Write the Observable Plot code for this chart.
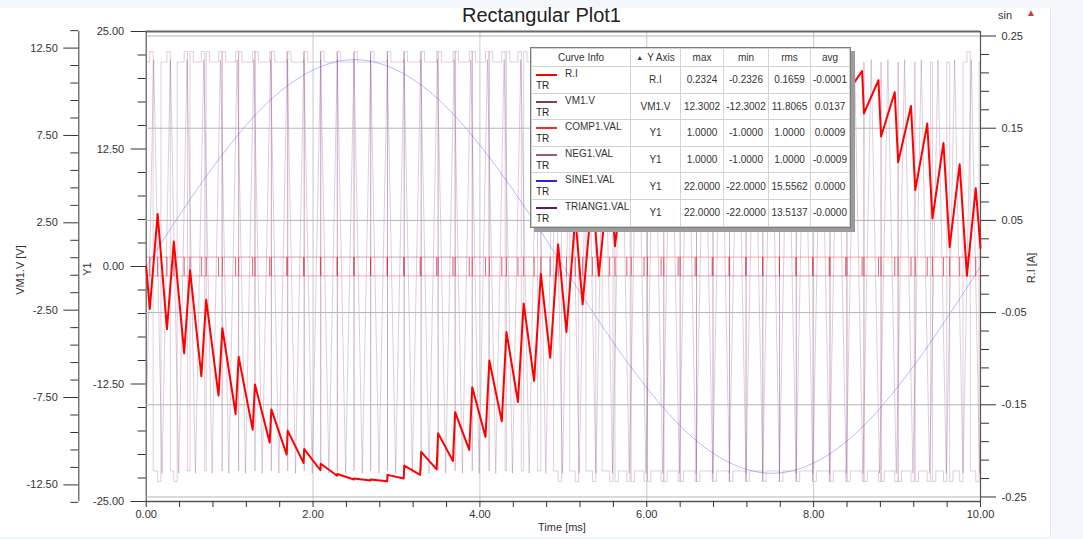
<!DOCTYPE html>
<html>
<head>
<meta charset="utf-8">
<script src="https://cdn.jsdelivr.net/npm/d3@7"></script>
<script src="https://cdn.jsdelivr.net/npm/@observablehq/plot@0.6"></script>
<style>
  html, body { margin: 0; padding: 0; background: #f3f6fa; }
  body { font-family: "Liberation Sans", Arial, sans-serif; color: #333; }
  #wrap { position: relative; width: 1083px; height: 539px; overflow: hidden; }
  #panel { position: absolute; left: 0; top: 8px; width: 1050px; height: 529px; background: #fff; border-right: 1px solid #e2e5e9; }
  .layer { position: absolute; left: 0; top: 0; }
  .layer svg { display: block; }
  .title { position: absolute; top: 4px; left: 0; width: 1083px; text-align: center; font-size: 20px; color: #222; }
  .sin { position: absolute; left: 998px; top: 9px; font-size: 11px; color: #333; }
  .warn { position: absolute; left: 1026px; top: 7px; font-size: 10px; color: #d43a3a; }
  .rot { position: absolute; font-size: 11px; color: #333; white-space: nowrap; transform: translate(-50%, -50%) rotate(-90deg); }
  .xlab { position: absolute; font-size: 11px; color: #333; transform: translate(-50%, -50%); white-space: nowrap; }
  #legend { position: absolute; left: 530px; top: 47px; background: #fff; border: 1px solid #7d7d7d; box-shadow: 4px 4px 0 #9c9c9c; }
  #legend table { border-collapse: collapse; table-layout: fixed; font-size: 10px; color: #333; }
  #legend td, #legend th { border: 1px solid #d2d2d2; padding: 0; text-align: center; font-weight: normal; overflow: hidden; white-space: nowrap; }
  #legend tr.hd th { height: 17px; }
  #legend tr.row td { height: 25.6px; }
  .ci { position: relative; height: 25.6px; text-align: left; }
  .ci .ln { position: absolute; left: 4px; top: 7px; width: 21px; height: 2px; }
  .ci .nm { position: absolute; left: 33px; top: 1px; }
  .ci .tr { position: absolute; left: 4px; top: 13px; color: #222; }
  .tri { font-size: 7px; position: relative; top: -1px; margin-right: 4px; }
</style>
</head>
<body>
<div id="wrap">
  <div id="panel"></div>
  <div id="layerA" class="layer"></div>
  <div id="layerB" class="layer"></div>
  <div id="layerC" class="layer"></div>
  <div class="title">Rectangular Plot1</div>
  <div class="sin">sin</div>
  <div class="warn">&#9650;</div>
  <div class="rot" style="left:20px; top:270px;">VM1.V [V]</div>
  <div class="rot" style="left:87px; top:269px;">Y1</div>
  <div class="rot" style="left:1031px; top:268px;">R.I [A]</div>
  <div class="xlab" style="left:562px; top:527px;">Time [ms]</div>
  <div id="legend"></div>
</div>
<script>
// ---------------- data ----------------
// PWM switching instants (ms): start / end of each comparator pulse
const pwmStart = [0.043,0.249,0.455,0.661,0.867,1.072,1.276,1.480,1.684,1.886,2.088,2.289,2.490,2.689,2.888,3.087,3.284,3.481,3.677,3.872,4.067,4.262,4.456,4.650,4.843,5.037,5.231,5.425,5.619,5.813,6.008,6.204,6.400,6.596,6.794,6.992,7.190,7.391,7.591,7.792,7.993,8.196,8.399,8.603,8.808,9.013,9.218,9.424,9.630,9.837];
const pwmEnd = [0.137,0.331,0.525,0.719,0.913,1.108,1.304,1.500,1.696,1.894,2.092,2.291,2.491,2.691,2.892,3.093,3.296,3.499,3.703,3.908,4.113,4.318,4.524,4.730,4.937,5.143,5.349,5.555,5.761,5.967,6.172,6.376,6.580,6.784,6.986,7.188,7.389,7.589,7.789,7.988,8.187,8.384,8.581,8.777,8.972,9.167,9.362,9.556,9.750,9.943];
// R.I (A) at each pwmStart (troughs) and pwmEnd (peaks)
const riTrough = [-0.046,-0.068,-0.094,-0.119,-0.140,-0.160,-0.177,-0.191,-0.204,-0.213,-0.221,-0.227,-0.231,-0.232,-0.233,-0.230,-0.226,-0.220,-0.211,-0.199,-0.185,-0.168,-0.147,-0.124,-0.099,-0.071,-0.041,-0.010,0.022,0.055,0.087,0.117,0.145,0.170,0.192,0.209,0.222,0.229,0.231,0.228,0.220,0.206,0.188,0.166,0.141,0.113,0.083,0.052,0.021,-0.010];
const riPeak = [0.057,0.027,-0.004,-0.036,-0.067,-0.098,-0.128,-0.155,-0.178,-0.198,-0.214,-0.225,-0.230,-0.231,-0.226,-0.216,-0.201,-0.181,-0.158,-0.131,-0.102,-0.071,-0.040,-0.008,0.024,0.054,0.082,0.108,0.132,0.153,0.172,0.187,0.201,0.212,0.220,0.226,0.230,0.232,0.231,0.230,0.227,0.221,0.212,0.202,0.189,0.174,0.155,0.134,0.111,0.085];
const riStartValue = 0.0, riEndValue = 0.02;

// SINE1.VAL read every 0.5 ms
const sineT = [0,0.5,1,1.5,2,2.5,3,3.5,4,4.5,5,5.5,6,6.5,7,7.5,8,8.5,9,9.5,10];
const sineV = [0,6.8,12.9,17.8,20.9,22,20.9,17.8,12.9,6.8,0,-6.8,-12.9,-17.8,-20.9,-22,-20.9,-17.8,-12.9,-6.8,0];

const triAmp = 22;          // TRIANG1.VAL peak
const compLevel = 1;        // COMP1 / NEG1 level
const vmHigh = 11.7;        // VM1.V plateau
const vmDiode = 12.3;       // VM1.V during dead time
const deadTime = 0.04;      // ms

// axes
const xMajor = [0,2,4,6,8,10];
const xMinor = [0.4,0.8,1.2,1.6,2.4,2.8,3.2,3.6,4.4,4.8,5.2,5.6,6.4,6.8,7.2,7.6,8.4,8.8,9.2,9.6];
const xGrid = [2,4,6,8];
const y1Major = [25,12.5,0,-12.5,-25];
const y1Minor = [22.5,20,17.5,15,10,7.5,5,2.5,-2.5,-5,-7.5,-10,-15,-17.5,-20,-22.5];
const vmMajor = [12.5,7.5,2.5,-2.5,-7.5,-12.5];
const vmMinor = [13.5,11.5,10.5,9.5,8.5,6.5,5.5,4.5,3.5,1.5,0.5,-0.5,-1.5,-3.5,-4.5,-5.5,-6.5,-8.5,-9.5,-10.5,-11.5,-13.5];
const riMajor = [0.25,0.15,0.05,-0.05,-0.15,-0.25];
const riMinor = [0.23,0.21,0.19,0.17,0.13,0.11,0.09,0.07,0.03,0.01,-0.01,-0.03,-0.07,-0.09,-0.11,-0.13,-0.17,-0.19,-0.21,-0.23];

// legend table
const legNames = ["R.I","VM1.V","COMP1.VAL","NEG1.VAL","SINE1.VAL","TRIANG1.VAL"];
const legAxis = ["R.I","VM1.V","Y1","Y1","Y1","Y1"];
const legMax = ["0.2324","12.3002","1.0000","1.0000","22.0000","22.0000"];
const legMin = ["-0.2326","-12.3002","-1.0000","-1.0000","-22.0000","-22.0000"];
const legRms = ["0.1659","11.8065","1.0000","1.0000","15.5562","13.5137"];
const legAvg = ["-0.0001","0.0137","0.0009","-0.0009","0.0000","-0.0000"];
const legColors = ["#ff0000","#7a3a6c","#ff2a2a","#9a5a7c","#2424dd","#5a1a66"];

// ---------------- build series tables ----------------
const riData = [{t: 0, v: riStartValue}];
pwmStart.forEach((s, k) => { riData.push({t: s, v: riTrough[k]}, {t: pwmEnd[k], v: riPeak[k]}); });
riData.push({t: 10, v: riEndValue});

const vmData = [{t: 0, v: vmHigh}];
pwmStart.forEach((s, k) => {
  const e = pwmEnd[k];
  const nextS = k + 1 < pwmStart.length ? pwmStart[k + 1] : 10;
  const ds = Math.min(deadTime, e - s);
  const de = Math.min(deadTime, nextS - e);
  const Ds = riTrough[k] < 0 ? vmDiode : -vmDiode;
  const De = riPeak[k] < 0 ? vmDiode : -vmDiode;
  vmData.push({t: s, v: vmHigh}, {t: s, v: Ds}, {t: s + ds, v: Ds}, {t: s + ds, v: -vmHigh},
              {t: e, v: -vmHigh}, {t: e, v: De}, {t: e + de, v: De}, {t: e + de, v: vmHigh});
});
vmData.push({t: 10, v: vmHigh});

const compData = [{t: 0, v: -compLevel}];
pwmStart.forEach((s, k) => { compData.push({t: s, v: -compLevel}, {t: s, v: compLevel}, {t: pwmEnd[k], v: compLevel}, {t: pwmEnd[k], v: -compLevel}); });
compData.push({t: 10, v: -compLevel});
const negData = compData.map(d => ({t: d.t, v: -d.v}));

const peaksT = pwmStart.map((s, k) => (s + pwmEnd[k]) / 2);
const triData = [];
peaksT.forEach((c, k) => {
  const prev = k > 0 ? peaksT[k - 1] : c - (peaksT[1] - peaksT[0]);
  triData.push({t: (prev + c) / 2, v: -triAmp}, {t: c, v: triAmp});
});
{
  const n = peaksT.length, h = peaksT[n - 1] - peaksT[n - 2];
  triData.push({t: peaksT[n - 1] + h / 2, v: -triAmp}, {t: peaksT[n - 1] + h, v: triAmp});
}
const sineData = sineT.map((t, i) => ({t, v: sineV[i]}));

// ---------------- plots (three stacked layers sharing the x scale) ----------------
const fmt2 = d => d.toFixed(2);
const blank = () => "";
const base = {
  width: 1083, height: 539,
  marginLeft: 145.7, marginRight: 103, marginTop: 31, marginBottom: 38,
  style: {background: "transparent", fontFamily: "'Liberation Sans', Arial, sans-serif", fontSize: "11px", color: "#333", overflow: "visible"}
};
const VMDX = -67.4;

const layerA = Plot.plot({
  ...base,
  x: {domain: [0, 10], axis: null},
  y: {domain: [-13.45, 13.45]},
  marks: [
    Plot.line(vmData, {x: "t", y: "v", stroke: "#8b3f78", strokeOpacity: 0.26, strokeWidth: 1}),
    Plot.ruleX([0], {y1: -13.45, y2: 13.45, dx: VMDX, stroke: "#555", strokeWidth: 1.2}),
    Plot.axisY(vmMajor, {anchor: "left", dx: VMDX, tickSize: 15, tickPadding: 6, tickFormat: fmt2, label: null}),
    Plot.axisY(vmMinor, {anchor: "left", dx: VMDX, tickSize: 8, tickFormat: blank, label: null})
  ]
});

const layerB = Plot.plot({
  ...base,
  x: {domain: [0, 10]},
  y: {domain: [-25, 25]},
  marks: [
    Plot.ruleX(xGrid, {stroke: "#c8c8c8"}),
    Plot.line(triData, {x: "t", y: "v", stroke: "#6a1b6e", strokeOpacity: 0.22, strokeWidth: 1, clip: true}),
    Plot.line(sineData, {x: "t", y: "v", curve: "natural", stroke: "#3a3aff", strokeOpacity: 0.35, strokeWidth: 1}),
    Plot.line(negData, {x: "t", y: "v", stroke: "#9b4d75", strokeOpacity: 0.5, strokeWidth: 1}),
    Plot.line(compData, {x: "t", y: "v", stroke: "#ff2020", strokeOpacity: 0.4, strokeWidth: 1}),
    Plot.ruleX([0], {stroke: "#555", strokeWidth: 1.2}),
    Plot.ruleX([10], {stroke: "#555", strokeWidth: 1.2}),
    Plot.ruleY([-25], {stroke: "#555", strokeWidth: 1.5}),
    Plot.ruleY([25], {stroke: "#666", strokeWidth: 2}),
    Plot.axisX(xMajor, {anchor: "bottom", tickSize: 6, tickPadding: 3, tickFormat: fmt2, label: null}),
    Plot.axisX(xMinor, {anchor: "bottom", tickSize: 6, tickFormat: blank, label: null}),
    Plot.axisY(y1Major, {anchor: "left", tickSize: 15, tickPadding: 7, tickFormat: fmt2, label: null}),
    Plot.axisY(y1Minor, {anchor: "left", tickSize: 8, tickFormat: blank, label: null})
  ]
});

const layerC = Plot.plot({
  ...base,
  x: {domain: [0, 10], axis: null},
  y: {domain: [-0.2549, 0.2549]},
  marks: [
    Plot.ruleY(riMajor, {stroke: "#b4b4b4"}),
    Plot.line(riData, {x: "t", y: "v", stroke: "#ff0000", strokeWidth: 2}),
    Plot.axisY(riMajor, {anchor: "right", tickSize: 15, tickPadding: 6, tickFormat: fmt2, label: null}),
    Plot.axisY(riMinor, {anchor: "right", tickSize: 8, tickFormat: blank, label: null})
  ]
});

document.getElementById("layerA").appendChild(layerA);
document.getElementById("layerB").appendChild(layerB);
document.getElementById("layerC").appendChild(layerC);

// ---------------- legend table ----------------
const widths = [99, 50, 43, 45, 42, 39];
let html = "<table><colgroup>" + widths.map(w => `<col style="width:${w}px">`).join("") + "</colgroup>";
html += '<tr class="hd"><th>Curve Info</th><th><span class="tri">&#9650;</span>Y Axis</th><th>max</th><th>min</th><th>rms</th><th>avg</th></tr>';
legNames.forEach((n, i) => {
  html += `<tr class="row"><td><div class="ci"><span class="ln" style="background:${legColors[i]}"></span><span class="nm">${n}</span><span class="tr">TR</span></div></td>` +
          `<td>${legAxis[i]}</td><td>${legMax[i]}</td><td>${legMin[i]}</td><td>${legRms[i]}</td><td>${legAvg[i]}</td></tr>`;
});
html += "</table>";
document.getElementById("legend").innerHTML = html;
</script>
</body>
</html>
